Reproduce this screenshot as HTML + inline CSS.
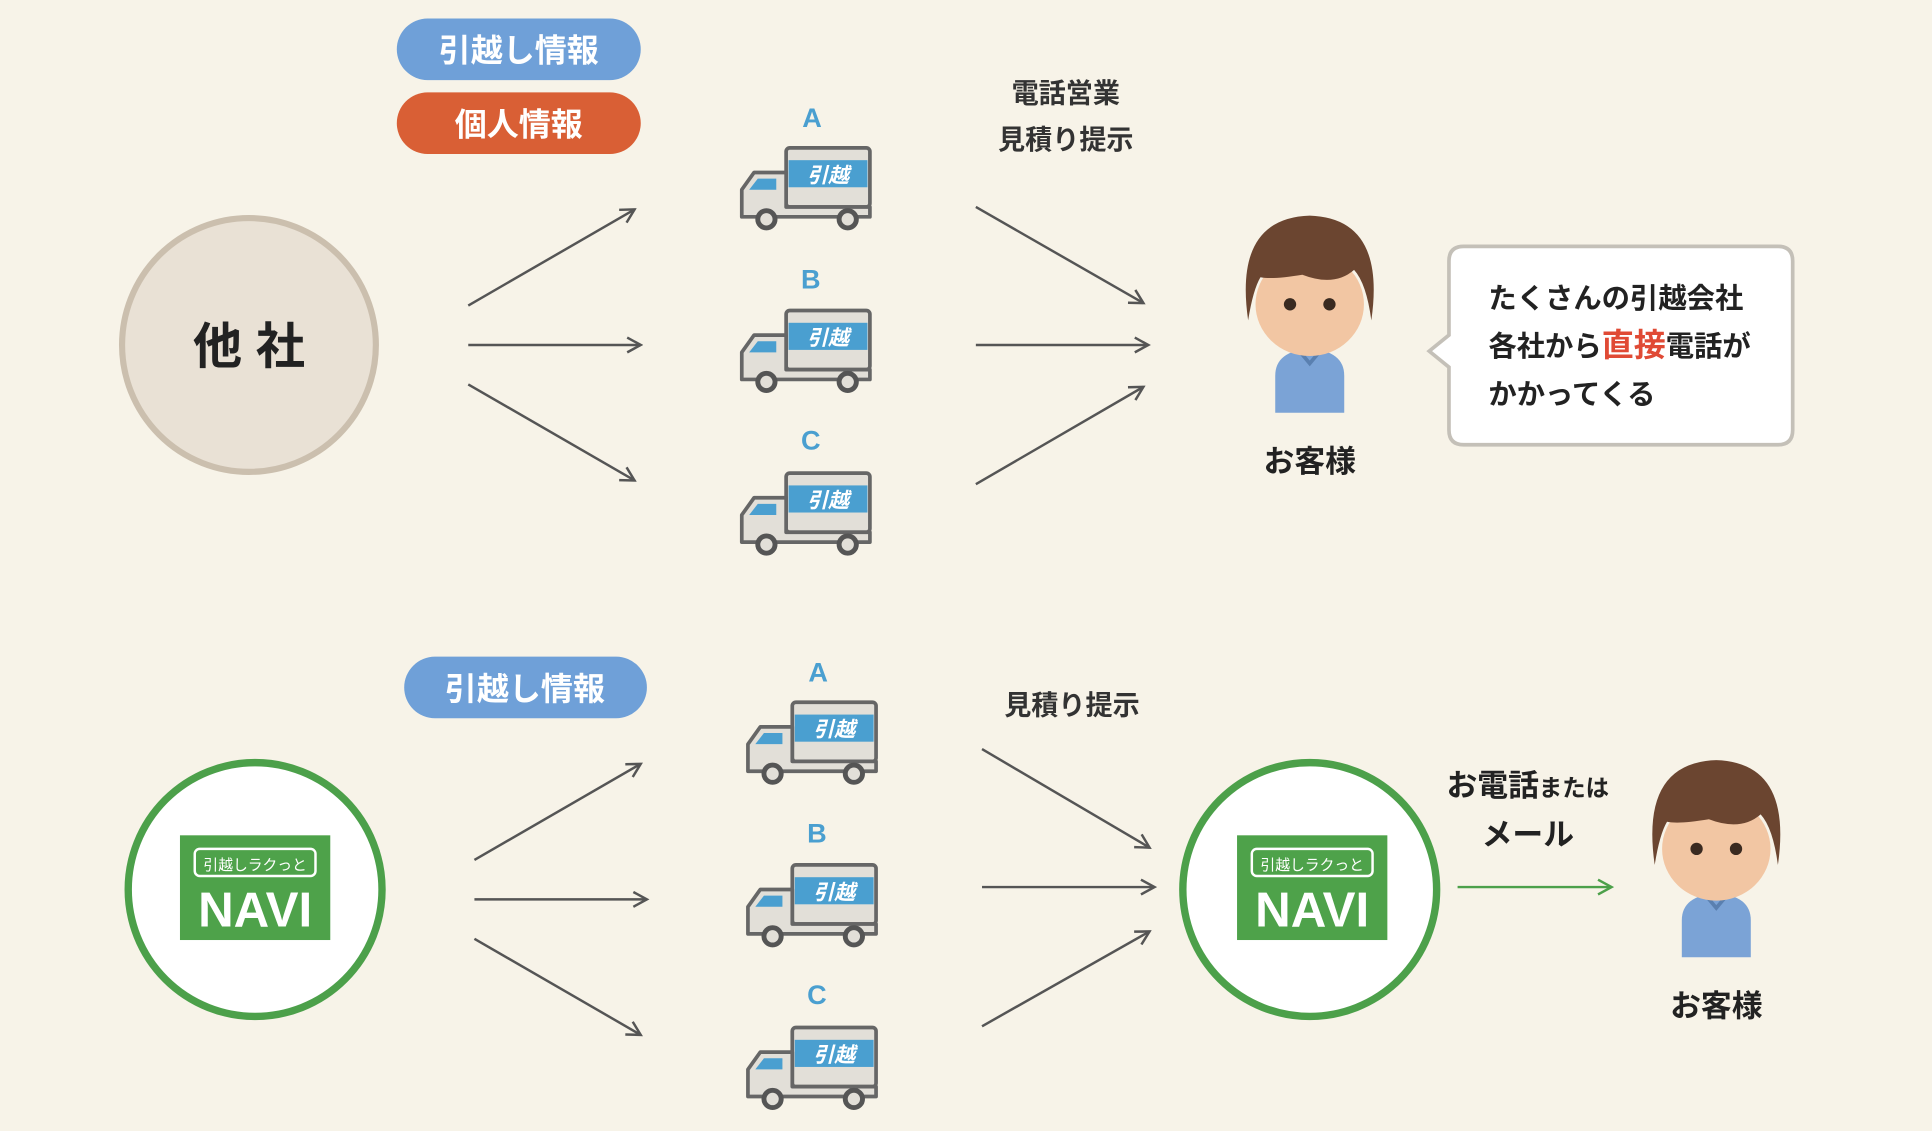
<!DOCTYPE html>
<html><head><meta charset="utf-8"><style>
html,body{margin:0;padding:0;background:#f7f3e8;}
svg{display:block;font-family:"Liberation Sans","Noto Sans CJK JP",sans-serif;}
</style></head><body>
<svg width="1932" height="1131" viewBox="0 0 1568 918" xmlns="http://www.w3.org/2000/svg">
<defs>
<marker id="ah" markerWidth="14" markerHeight="14" refX="12" refY="7" orient="auto" markerUnits="userSpaceOnUse">
<path d="M1,1 L12,7 L1,13" fill="none" stroke="#555" stroke-width="2"/></marker>
<marker id="ahg" markerWidth="14" markerHeight="14" refX="12" refY="7" orient="auto" markerUnits="userSpaceOnUse">
<path d="M1,1 L12,7 L1,13" fill="none" stroke="#4ca04a" stroke-width="2"/></marker>
<g id="truck">
<rect x="38" y="2" width="68" height="48" rx="3" fill="#e2dfd8" stroke="#666" stroke-width="3"/>
<rect x="40" y="12" width="64" height="22" fill="#4a9fd0"/>
<text x="72" y="30" font-size="17" fill="#fff" font-style="italic" font-weight="bold" text-anchor="middle">引越</text>
<path d="M2,56 L2,36 L12,22 L38,22 L38,50 L106,50 L106,58 L2,58 Z" fill="#e2dfd8" stroke="#666" stroke-width="3" stroke-linejoin="round"/>
<path d="M8,36 L15,27 L30,27 L30,36 Z" fill="#4a9fd0"/>
<circle cx="22" cy="60" r="7" fill="#e2dfd8" stroke="#555" stroke-width="4"/>
<circle cx="88" cy="60" r="7" fill="#e2dfd8" stroke="#555" stroke-width="4"/>
</g>
<g id="person">
<path d="M-28,80 Q-28,60 0,58 Q28,60 28,80 L28,110 L-28,110 Z" fill="#7ba3d6"/>
<path d="M-10,58 L0,70 L10,58" fill="none" stroke="#5a80b0" stroke-width="3"/>
<rect x="-8" y="45" width="16" height="16" fill="#f2c6a3"/>
<ellipse cx="0" cy="22" rx="44" ry="42" fill="#f2c6a3"/>
<path d="M-50,35 Q-62,-48 0,-50 Q62,-48 50,35 Q46,5 36,-6 Q20,8 -6,-2 Q-30,2 -40,0 Q-46,10 -50,35 Z" fill="#6b4530"/>
<circle cx="-16" cy="22" r="5" fill="#3a2a20"/>
<circle cx="16" cy="22" r="5" fill="#3a2a20"/>
</g>
<g id="navi">
<rect x="-61" y="-44" width="122" height="85" fill="#4ea24a"/>
<rect x="-49" y="-33" width="98" height="22" rx="4" fill="none" stroke="#fff" stroke-width="2"/>
<text x="0" y="-16" font-size="12" fill="#fff" text-anchor="middle">引越しラクっと</text>
<text x="0" y="30" font-size="40" font-weight="bold" fill="#fff" text-anchor="middle">NAVI</text>
</g>
</defs>

<rect x="322" y="15" width="198" height="50" rx="25" fill="#6fa0d8"/>
<text x="421" y="50" font-size="26" font-weight="bold" fill="#fff" text-anchor="middle">引越し情報</text>
<rect x="322" y="75" width="198" height="50" rx="25" fill="#d95f35"/>
<text x="421" y="110" font-size="26" font-weight="bold" fill="#fff" text-anchor="middle">個人情報</text>

<circle cx="202" cy="280" r="103" fill="#e9e1d5" stroke="#cbbfae" stroke-width="5"/>
<text x="202" y="295" font-size="40" font-weight="bold" fill="#222" text-anchor="middle">他 社</text>

<g stroke="#555" stroke-width="2" fill="none">
<line x1="380" y1="248" x2="515" y2="170" marker-end="url(#ah)"/>
<line x1="380" y1="280" x2="520" y2="280" marker-end="url(#ah)"/>
<line x1="380" y1="312" x2="515" y2="390" marker-end="url(#ah)"/>
<line x1="792" y1="168" x2="928" y2="246" marker-end="url(#ah)"/>
<line x1="792" y1="280" x2="932" y2="280" marker-end="url(#ah)"/>
<line x1="792" y1="393" x2="928" y2="314" marker-end="url(#ah)"/>
</g>

<g font-size="22" font-weight="bold" fill="#4a9fd0" text-anchor="middle">
<text x="659" y="103">A</text><text x="658" y="234">B</text><text x="658" y="365">C</text>
</g>
<use href="#truck" x="600" y="118"/>
<use href="#truck" x="600" y="250"/>
<use href="#truck" x="600" y="382"/>

<g font-size="22" font-weight="bold" fill="#333" text-anchor="middle">
<text x="865" y="83">電話営業</text><text x="865" y="121">見積り提示</text>
</g>

<use href="#person" x="1063" y="225"/>
<text x="1063" y="383" font-size="25" font-weight="bold" fill="#222" text-anchor="middle">お客様</text>

<path d="M1188,200 L1443,200 Q1455,200 1455,212 L1455,349 Q1455,361 1443,361 L1188,361 Q1176,361 1176,349 L1176,298 L1160,285 L1176,272 L1176,212 Q1176,200 1188,200 Z" fill="#fff" stroke="#c4c0b8" stroke-width="3"/>
<g font-size="23" font-weight="bold" fill="#222">
<text x="1208" y="250">たくさんの引越会社</text>
<text x="1208" y="289">各社から<tspan fill="#e04a35" font-size="26">直接</tspan>電話が</text>
<text x="1208" y="328">かかってくる</text>
</g>

<rect x="328" y="533" width="197" height="50" rx="25" fill="#6fa0d8"/>
<text x="426" y="568" font-size="26" font-weight="bold" fill="#fff" text-anchor="middle">引越し情報</text>

<circle cx="207" cy="722" r="103" fill="#fff" stroke="#4ca04a" stroke-width="6"/>
<use href="#navi" x="207" y="722"/>
<circle cx="1063" cy="722" r="103" fill="#fff" stroke="#4ca04a" stroke-width="6"/>
<use href="#navi" x="1065" y="722"/>

<g stroke="#555" stroke-width="2" fill="none">
<line x1="385" y1="698" x2="520" y2="620" marker-end="url(#ah)"/>
<line x1="385" y1="730" x2="525" y2="730" marker-end="url(#ah)"/>
<line x1="385" y1="762" x2="520" y2="840" marker-end="url(#ah)"/>
<line x1="797" y1="608" x2="933" y2="688" marker-end="url(#ah)"/>
<line x1="797" y1="720" x2="937" y2="720" marker-end="url(#ah)"/>
<line x1="797" y1="833" x2="933" y2="756" marker-end="url(#ah)"/>
</g>
<line x1="1183" y1="720" x2="1308" y2="720" stroke="#4ca04a" stroke-width="2" marker-end="url(#ahg)"/>

<g font-size="22" font-weight="bold" fill="#4a9fd0" text-anchor="middle">
<text x="664" y="553">A</text><text x="663" y="684">B</text><text x="663" y="815">C</text>
</g>
<use href="#truck" x="605" y="568"/>
<use href="#truck" x="605" y="700"/>
<use href="#truck" x="605" y="832"/>

<text x="870" y="580" font-size="22" font-weight="bold" fill="#333" text-anchor="middle">見積り提示</text>

<text x="1240" y="646" font-size="25" font-weight="bold" fill="#222" text-anchor="middle">お電話<tspan font-size="19">または</tspan></text>
<text x="1240" y="686" font-size="25" font-weight="bold" fill="#222" text-anchor="middle">メール</text>

<use href="#person" x="1393" y="667"/>
<text x="1393" y="825" font-size="25" font-weight="bold" fill="#222" text-anchor="middle">お客様</text>
</svg>
</body></html>
